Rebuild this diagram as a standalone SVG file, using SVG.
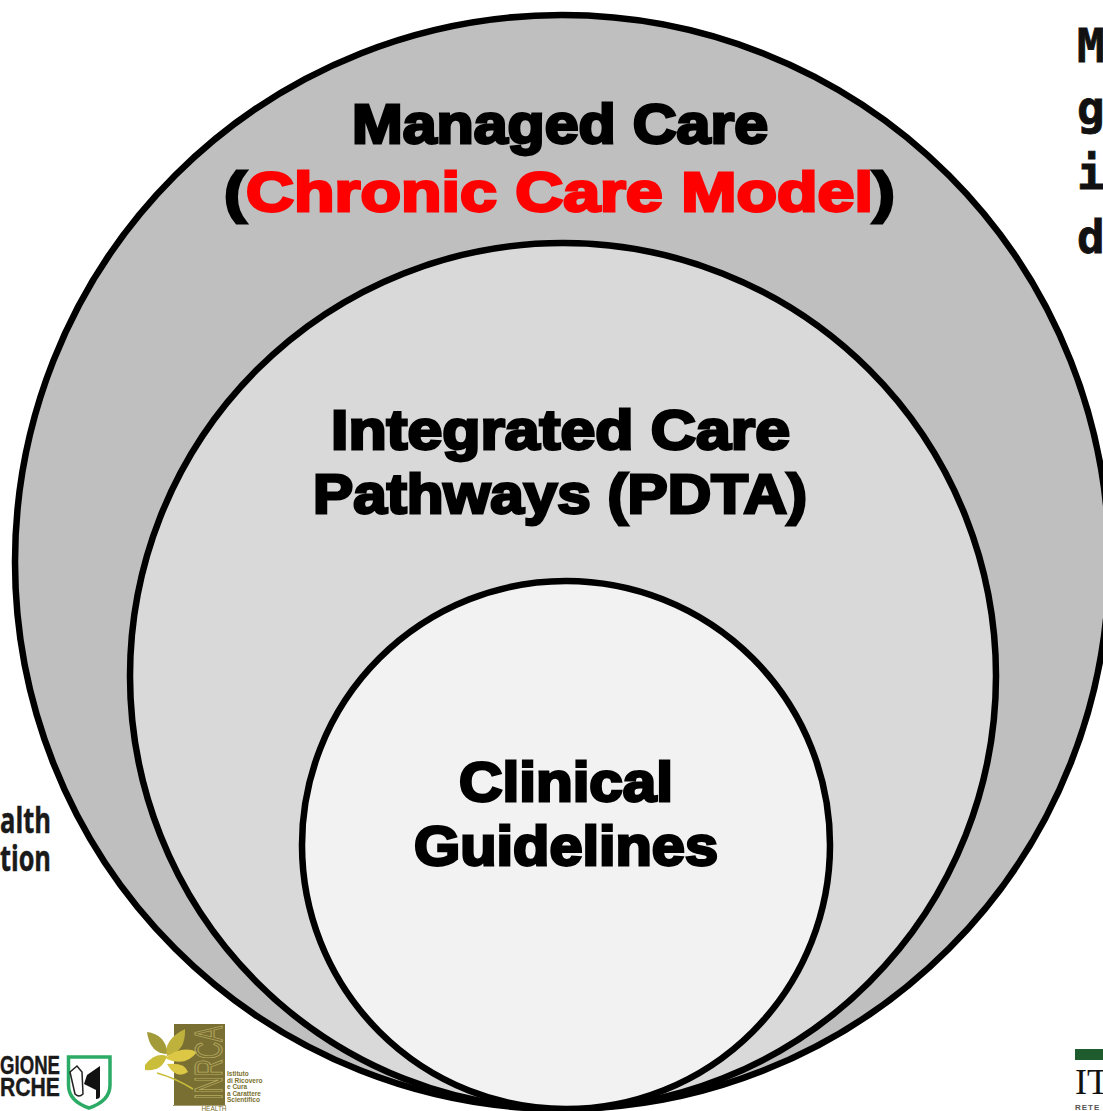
<svg xmlns="http://www.w3.org/2000/svg" width="1103" height="1111" viewBox="0 0 1103 1111">
<style>
.c{stroke:#000;stroke-width:6.500}
.t{font-family:"Liberation Sans",Arial,sans-serif;font-weight:700;font-size:55px;fill:#000;stroke:#000;stroke-width:2.800}
.r{fill:#f00;stroke:#f00}
.m{font-family:"DejaVu Sans Mono",monospace;font-weight:700;font-size:46px;fill:#111;stroke:#111;stroke-width:.8}
.l{font-family:"Open Sans","Liberation Sans",sans-serif;font-weight:700;fill:#1a1a1a;stroke:#1a1a1a;stroke-width:.5}
.g{font-family:"Liberation Sans",sans-serif;font-weight:700;fill:#1a1a1a;stroke:#1a1a1a;stroke-width:.4}
.i{font-family:"Liberation Sans",sans-serif;font-weight:700;font-size:6.500px;fill:#7a6f2c}
</style>
<rect width="1103" height="1111" fill="#fff"/>
<g id="side-text">
<text class="m" x="1077" y="62">M</text>
<text class="m" x="1077" y="124">g</text>
<text class="m" x="1077" y="189">i</text>
<text class="m" x="1077" y="253">d</text>
</g>
<g id="logo-health">
<text class="l" x="0" y="833" font-size="35" textLength="51" lengthAdjust="spacingAndGlyphs">alth</text>
<text class="l" x="0" y="871" font-size="35" textLength="51" lengthAdjust="spacingAndGlyphs">tion</text>
</g>
<g id="logo-marche">
<text class="g" x="0" y="1074" font-size="25" textLength="60" lengthAdjust="spacingAndGlyphs">GIONE</text>
<text class="g" x="0" y="1096" font-size="25" textLength="60" lengthAdjust="spacingAndGlyphs">RCHE</text>
<path d="M68.500 1057H110V1085Q110 1101 89 1108Q68.500 1101 68.500 1085Z" fill="#fff" stroke="#2bab66" stroke-width="3.500"/>
<path d="M87 1075L100 1066V1096Q100 1099 96 1099V1090L84 1084Z" fill="#111"/>
<path d="M70 1072L77 1066L82 1072L83 1094Q79 1098 75 1094Z" fill="#fff" stroke="#222" stroke-width="1.500"/>
</g>
<g id="logo-inrca">
<rect x="174" y="1024" width="51" height="81" fill="#7a6f33"/>
<path d="M147 1032Q165 1034 168 1054Q150 1054 147 1032Z" fill="#a39a3a"/>
<path d="M185 1029Q186 1052 167 1056Q163 1040 185 1029Z" fill="#bfb23c"/>
<path d="M145 1065Q155 1052 167 1056Q162 1072 145 1070Z" fill="#c9bd3a"/>
<path d="M165 1058Q182 1045 197 1052Q185 1068 165 1058Z" fill="#dcc845"/>
<path d="M167 1064Q185 1062 188 1072Q176 1080 167 1064Z" fill="#dcc845"/>
<path d="M157 1073Q175 1078 193 1089" fill="none" stroke="#c9bd3a" stroke-width="1.500"/>
<text x="222" y="1100" transform="rotate(-90 222 1100)" font-family="Liberation Sans,sans-serif" font-size="38" fill="none" stroke="#b5aa60" stroke-width="1" textLength="74" lengthAdjust="spacingAndGlyphs">INRCA</text>
<text class="i" x="227" y="1076">Istituto</text>
<text class="i" x="227" y="1083">di Ricovero</text>
<text class="i" x="227" y="1089">e Cura</text>
<text class="i" x="227" y="1096">a Carattere</text>
<text class="i" x="227" y="1102">Scientifico</text>
<rect x="173" y="1105" width="53" height="1" fill="#a59c70"/>
<text x="214" y="1111" font-family="Liberation Sans,sans-serif" font-size="6.500" fill="#7a6f2c" text-anchor="middle">HEALTH</text>
</g>
<g id="logo-it">
<rect x="1075" y="1049" width="28" height="11" fill="#1e5c2e"/>
<text x="1075" y="1094" font-family="Liberation Serif,serif" font-size="36" fill="#111">IT</text>
<text x="1075" y="1110" font-family="Liberation Sans,sans-serif" font-size="8" font-weight="700" fill="#555" letter-spacing="1">RETE</text>
</g>
<g id="managed-care">
<circle class="c" cx="562" cy="562" r="547" fill="#bfbfbf"/>
<text class="t" x="352" y="143" textLength="416" lengthAdjust="spacingAndGlyphs">Managed Care</text>
<text class="t" x="224" y="211" textLength="671" lengthAdjust="spacingAndGlyphs">(<tspan class="r">Chronic Care Model</tspan>)</text>
</g>
<g id="integrated-care">
<circle class="c" cx="563" cy="676" r="433" fill="#d9d9d9"/>
<text class="t" x="331" y="449" textLength="459" lengthAdjust="spacingAndGlyphs">Integrated Care</text>
<text class="t" x="313" y="513" textLength="494" lengthAdjust="spacingAndGlyphs">Pathways (PDTA)</text>
</g>
<g id="clinical-guidelines">
<circle class="c" cx="566" cy="845" r="264" fill="#f2f2f2"/>
<text class="t" x="459" y="801" textLength="214" lengthAdjust="spacingAndGlyphs">Clinical</text>
<text class="t" x="414" y="865" textLength="304" lengthAdjust="spacingAndGlyphs">Guidelines</text>
</g>
</svg>
